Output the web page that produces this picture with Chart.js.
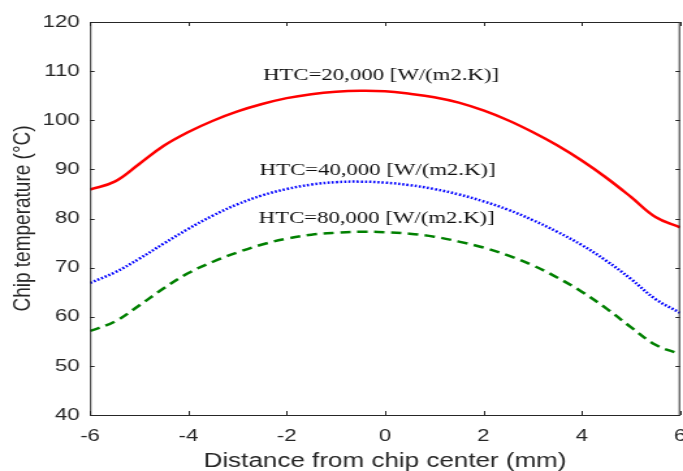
<!DOCTYPE html>
<html>
<head>
<meta charset="utf-8">
<title>Chip temperature profile</title>
<script src="https://cdn.jsdelivr.net/npm/chart.js@4.4.0/dist/chart.umd.min.js"></script>
<style>
  html, body { margin: 0; padding: 0; background: #fff; overflow: hidden; }
  /* figure was exported with a wide aspect, so the drawing is stretched horizontally */
  #wrap { width: 525px; height: 471px; transform: scaleX(1.301); transform-origin: 0 0; }
</style>
</head>
<body>
<div id="wrap"><canvas id="chipTempChart"></canvas></div>
<script>
// Distance from chip center (mm)
const distance = [-6, -5.5, -5, -4.5, -4, -3.5, -3, -2.5, -2, -1.5, -1, -0.5, 0,
                  0.5, 1, 1.5, 2, 2.5, 3, 3.5, 4, 4.5, 5, 5.5, 6];

// Chip temperature (°C) for each heat transfer coefficient
const temp20k = [85.9, 87.5, 91.1, 94.8, 97.6, 99.9, 101.8, 103.3, 104.5, 105.3, 105.8, 106.0, 105.9,
                 105.4, 104.7, 103.6, 102.0, 100.0, 97.6, 94.9, 91.8, 88.3, 84.4, 80.3, 78.2];
const temp40k = [66.9, 69.0, 71.8, 74.9, 77.9, 80.6, 82.9, 84.7, 86.0, 86.9, 87.4, 87.5, 87.3,
                 86.8, 86.0, 84.9, 83.5, 81.8, 79.7, 77.3, 74.6, 71.4, 67.7, 63.6, 60.8];
const temp80k = [57.1, 59.0, 62.3, 65.8, 68.9, 71.2, 73.1, 74.7, 75.9, 76.7, 77.1, 77.3, 77.2,
                 76.9, 76.3, 75.3, 74.1, 72.5, 70.5, 68.0, 65.1, 61.7, 57.9, 54.3, 52.4];

// Curve annotations (text, x in mm, y in °C)
const noteText = ['HTC=20,000 [W/(m2.K)]', 'HTC=40,000 [W/(m2.K)]', 'HTC=80,000 [W/(m2.K)]'];
const noteX = [-0.08, -0.15, -0.17];
const noteY = [109.2, 89.8, 80.0];

const AXIS_COLOR = '#262626';

function toPoints(ys) {
    return distance.map((x, i) => ({ x: x, y: ys[i] }));
}

// MATLAB style box with inward tick marks on all four sides
const boxPlugin = {
    id: 'boxAxes',
    afterDraw(chart) {
        const { ctx, chartArea: a, scales } = chart;
        ctx.save();
        ctx.strokeStyle = AXIS_COLOR;
        ctx.lineWidth = 1;
        ctx.strokeRect(a.left + 0.5, a.top + 0.5, a.right - a.left - 1, a.bottom - a.top);
        ctx.beginPath();
        scales.x.ticks.forEach(t => {
            const px = Math.round(scales.x.getPixelForValue(t.value)) + 0.5;
            ctx.moveTo(px, a.bottom);
            ctx.lineTo(px, a.bottom - 4);
            ctx.moveTo(px, a.top);
            ctx.lineTo(px, a.top + 4);
        });
        scales.y.ticks.forEach(t => {
            const py = Math.round(scales.y.getPixelForValue(t.value)) + 0.5;
            ctx.moveTo(a.left, py);
            ctx.lineTo(a.left + 3.5, py);
            ctx.moveTo(a.right, py);
            ctx.lineTo(a.right - 3.5, py);
        });
        ctx.stroke();
        ctx.restore();
    }
};

// Text labels next to each curve
const notePlugin = {
    id: 'curveNotes',
    afterDatasetsDraw(chart) {
        const { ctx, scales } = chart;
        ctx.save();
        ctx.font = '17.5px "Liberation Serif", "Times New Roman", serif';
        ctx.fillStyle = '#111';
        ctx.textAlign = 'center';
        ctx.textBaseline = 'middle';
        noteText.forEach((txt, i) => {
            ctx.fillText(txt, scales.x.getPixelForValue(noteX[i]), scales.y.getPixelForValue(noteY[i]));
        });
        ctx.restore();
    }
};

const ctx = document.getElementById('chipTempChart').getContext('2d');

new Chart(ctx, {
    type: 'line',
    data: {
        datasets: [{
            label: 'HTC=20,000',
            data: toPoints(temp20k),
            borderColor: '#ff0000',
            borderWidth: 2.5,
        }, {
            label: 'HTC=40,000',
            data: toPoints(temp40k),
            borderColor: '#0000ff',
            borderWidth: 2.5,
            borderDash: [1.6, 1.6],
        }, {
            label: 'HTC=80,000',
            data: toPoints(temp80k),
            borderColor: '#008000',
            borderWidth: 2.5,
            borderDash: [8, 5],
        }]
    },
    options: {
        responsive: true,
        maintainAspectRatio: false,
        animation: false,
        layout: {
            padding: { top: 22, right: 2.3, bottom: 0, left: 0 }
        },
        elements: {
            point: { radius: 0 },
            line: { tension: 0.4, fill: false }
        },
        plugins: {
            legend: { display: false },
            tooltip: { enabled: false }
        },
        scales: {
            x: {
                type: 'linear',
                min: -6,
                max: 6,
                grid: { display: false, drawTicks: false },
                border: { display: false },
                ticks: {
                    stepSize: 2,
                    padding: 11,
                    color: AXIS_COLOR,
                    font: { family: '"Liberation Sans", Arial, sans-serif', size: 17 }
                },
                title: {
                    display: true,
                    text: 'Distance from chip center (mm)',
                    color: AXIS_COLOR,
                    padding: { top: 0, bottom: 0 },
                    font: { family: '"Liberation Sans", Arial, sans-serif', size: 20, lineHeight: 1 }
                },
                afterFit(scale) {
                    scale.height = 56;
                    scale.paddingLeft = 0;
                    scale.paddingRight = 0;
                }
            },
            y: {
                min: 40,
                max: 120,
                grid: { display: false, drawTicks: false },
                border: { display: false },
                ticks: {
                    stepSize: 10,
                    padding: 8,
                    color: AXIS_COLOR,
                    font: { family: '"Liberation Sans", Arial, sans-serif', size: 17 }
                },
                title: {
                    display: true,
                    text: 'Chip temperature (°C)',
                    color: AXIS_COLOR,
                    padding: { top: 6, bottom: 0 },
                    font: { family: '"Liberation Sans", Arial, sans-serif', size: 19 }
                },
                afterFit(scale) {
                    scale.width = 69.2;
                }
            }
        }
    },
    plugins: [boxPlugin, notePlugin]
});
</script>
</body>
</html>
